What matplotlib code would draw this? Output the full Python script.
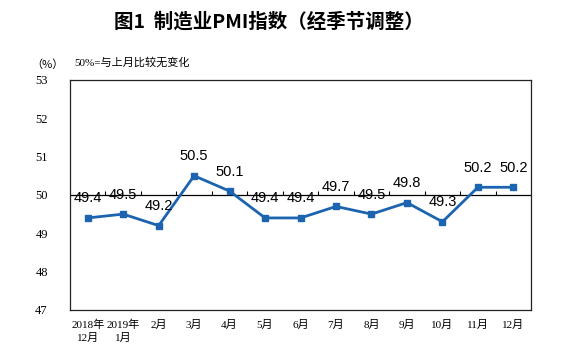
import numpy as np
import matplotlib.pyplot as plt

plt.rcParams['font.family'] = ['Liberation Serif', 'Noto Sans CJK SC']

# x-axis labels and monthly PMI values
months = ['2018年\n12月', '2019年\n1月', '2月', '3月', '4月', '5月', '6月',
          '7月', '8月', '9月', '10月', '11月', '12月']
pmi = [49.4, 49.5, 49.2, 50.5, 50.1, 49.4, 49.4, 49.7, 49.5, 49.8, 49.3, 50.2, 50.2]
yticks = [47, 48, 49, 50, 51, 52, 53]

blue = '#1c64b0'
x = np.arange(len(months))

fig = plt.figure(figsize=(5.75, 3.6), dpi=100)
ax = fig.add_axes([0.1217, 0.139, 0.802, 0.639])

ax.plot(x, pmi, color=blue, lw=2, marker='s', ms=4, zorder=3)
for xi, v in zip(x, pmi):
    ax.annotate(f'{v:.1f}', (xi, v), xytext=(0, 9), textcoords='offset points',
                ha='center', va='bottom', fontsize=10.5, family=['Liberation Sans'])

# reference line at 50 with small category ticks
ax.axhline(50, color='black', lw=0.9, zorder=2)
ax.vlines(x[:-1] + 0.5, 50, 50.09, color='black', lw=0.8)

ax.set_xlim(-0.5, len(months) - 0.5)
ax.set_ylim(47, 53)
ax.set_yticks(yticks)
ax.set_yticklabels([str(t) for t in yticks], fontsize=9)
ax.tick_params(axis='y', length=0, pad=16)
ax.set_xticks(x)
ax.set_xticklabels(months, fontsize=8, linespacing=1.3)
ax.tick_params(axis='x', length=0, pad=7)
for s in ax.spines.values():
    s.set_linewidth(0.9)
    s.set_color('#222222')

fig.text(0.467, 0.94, '图1  制造业PMI指数（经季节调整）', ha='center', va='center',
         fontsize=14, fontweight='bold', family=['Noto Sans CJK SC'])
fig.text(0.082, 0.82, '（%）', ha='center', va='center', fontsize=8,
         family=['Noto Sans CJK SC'])
fig.text(0.13, 0.827, '50%=与上月比较无变化', ha='left', va='center', fontsize=8)

fig.savefig('out.png', dpi=100)
